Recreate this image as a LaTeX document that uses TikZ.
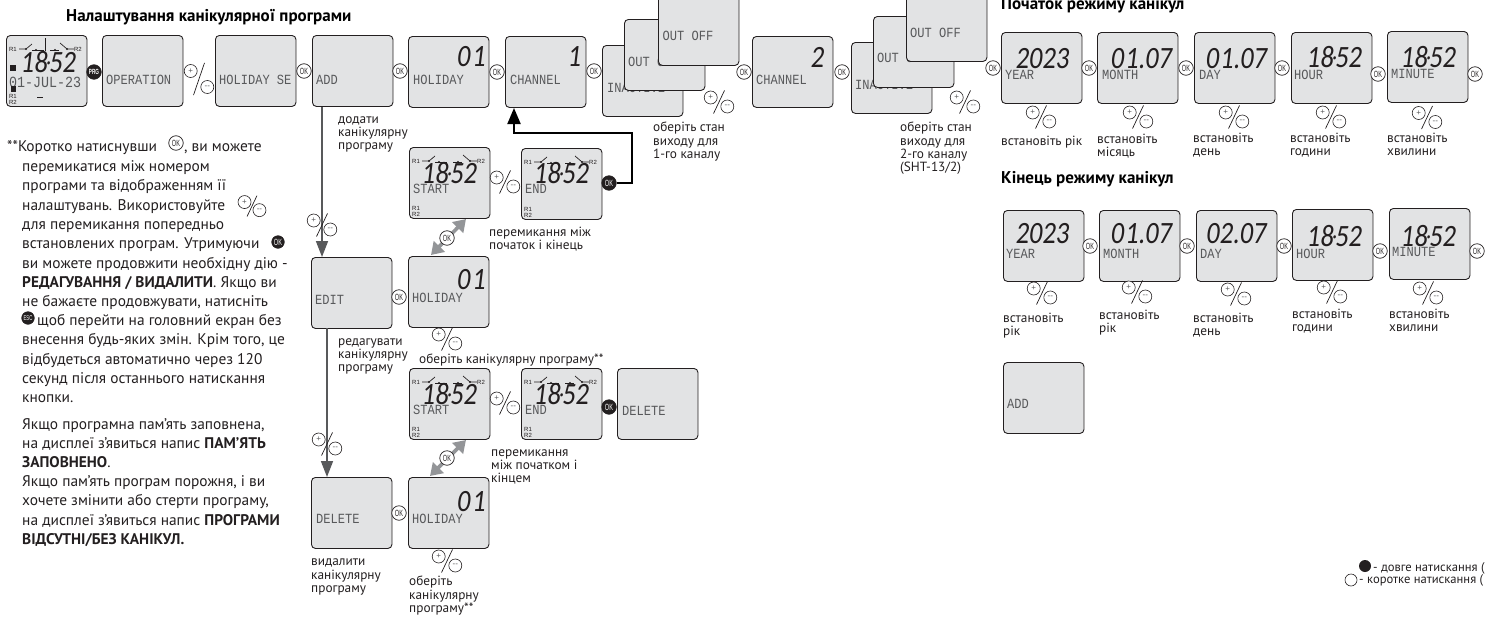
\documentclass[tikz,border=0pt]{standalone}
\usepackage{fontspec}
\usetikzlibrary{arrows.meta}
\setmainfont{PT Sans}
\newfontfamily\lcdfont[FakeStretch=0.86]{Liberation Mono}
\newfontfamily\numfont[FakeStretch=0.85,FakeSlant=0.12,ItalicFont=*]{Carlito}
\newfontfamily\btnfont[FakeStretch=0.62]{Liberation Sans}
\newfontfamily\tinyfont{Liberation Sans}
\definecolor{lcdgray}{HTML}{E2E3E4}
\definecolor{linegray}{HTML}{58595B}
\definecolor{arrowgray}{HTML}{939598}
\definecolor{inkgray}{HTML}{231F20}
\tikzset{
  lcd/.style={draw=inkgray, line width=0.9pt, fill=lcdgray, rounded corners=4pt, anchor=north west, minimum width=80.5pt, minimum height=71pt, inner sep=0pt},
  lcdtext/.style={font=\lcdfont\fontsize{14}{14}\selectfont, text=linegray, anchor=west, inner sep=0pt},
  bignum/.style={font=\numfont\itshape\fontsize{31}{31}\selectfont, text=inkgray, inner sep=0pt},
  okbtn/.style={circle, draw=inkgray, line width=0.7pt, fill=white, minimum size=14.5pt, inner sep=0pt, font=\btnfont\fontsize{9}{9}\selectfont, text=inkgray},
  okfill/.style={okbtn, fill=inkgray, text=white},
  pmbtn/.style={circle, draw=inkgray, line width=0.6pt, fill=white, minimum size=13pt, inner sep=0pt, font=\tinyfont\fontsize{8}{8}\selectfont, text=linegray},
  tiny/.style={font=\tinyfont\fontsize{6}{6}\selectfont, text=inkgray, inner sep=0pt},
  lbl/.style={font=\fontsize{13.3}{13.3}\selectfont, text=inkgray, anchor=north west, align=left, inner sep=0pt},
  head/.style={font=\bfseries\fontsize{17}{17}\selectfont, text=black, anchor=west, inner sep=0pt},
  body/.style={font=\fontsize{15.4}{19.2}\selectfont, text=inkgray, anchor=north west, align=left, inner sep=0pt},
  sw/.style={line width=0.7pt, inkgray},
  grayline/.style={draw=linegray, line width=1.6pt, -{Triangle[length=16pt,width=12pt]}},
  grayboth/.style={draw=arrowgray, line width=3.6pt, {Triangle[length=12pt,width=15pt]}-{Triangle[length=12pt,width=15pt]}}
}
% the digits as the display spaces them
\newcommand{\clockdigits}{18\kern-1.5pt\raisebox{3pt}{\fontsize{22}{22}\selectfont ·}\kern-1.5pt 52}
\newcommand{\daydigits}{0\kern1pt 1.07}
\newcommand{\numdigits}{0\kern2pt 1}
% box + segment text
\newcommand{\screen}[6]{
  \node[lcd] (#1) at (#2,#3) {};
  \node[lcdtext] (#1txt) at (#5,#6) {#4};
}
\newcommand{\plusminus}[4][4.5]{
  \coordinate (#2) at (#3,#4);
  \draw[line width=0.7pt, inkgray] ([shift={(5.5,-5.7-1.3*#1)}]#2) -- ([shift={(-5.5,5.7+1.3*#1)}]#2);
  \node[pmbtn] (#2p) at ([shift={(-8.3,-#1)}]#2) {+};
  \node[pmbtn] (#2m) at ([shift={(8.3,#1)}]#2) {--};
}
% R1/R2 switch marks on a clock screen
\newcommand{\timeicons}[3]{
  \begin{scope}[shift={(#2,#3)}]
    \node[tiny] (#1ra) at (7,14) {R1};
    \node[tiny] (#1rb) at (72,14) {R2};
    \node[tiny] (#1rc) at (7,61) {R1};
    \node[tiny] (#1rd) at (7,67) {R2};
    \draw[sw] (13,14) -- (20,14) -- (26,9);
    \draw[sw] (26,15) -- (38,15);
    \draw[sw] (44,15) -- (53,15);
    \draw[sw] (54,8) -- (61,14) -- (68,14);
    \fill[inkgray] (20,14) circle (1.1);
    \fill[inkgray] (30,15) circle (1.1);
    \fill[inkgray] (49,15) circle (1.1);
    \fill[inkgray] (61,14) circle (1.1);
  \end{scope}
}
\begin{document}
\begin{tikzpicture}[x=1pt,y=-1pt]
  \useasboundingbox (0,0) rectangle (1488,616);
  \clip (0,0) rectangle (1488,616);

  % top row
  \node[head] (title) at (66,17) {Налаштування канікулярної програми};
  \screen{home}{6}{35}{\fontsize{15.5}{15.5}\selectfont 01-JUL-23}{9}{82}
  \node[bignum] (homeclock) at (48,62) {\clockdigits};
  \timeicons{homeic}{6}{35}
  \draw[line width=1pt, inkgray] (45.5,38) -- (45.5,51);
  \fill[inkgray] (10,65) rectangle (16,71);
  \fill[inkgray] (10.5,86) rectangle (15.5,92);
  \draw[sw] (37,97) -- (43,97);
  \screen{operation}{102}{35}{OPERATION}{106}{80}
  \screen{holidayse}{215}{35}{HOLIDAY SE}{219}{80}
  \screen{add}{312}{35}{ADD}{316}{80}
  \screen{holiday}{408}{36}{HOLIDAY}{413}{80}
  \node[bignum] (holidaynum) at (471,57) {\numdigits};
  \screen{channela}{505}{36}{CHANNEL}{510}{80}
  \node[bignum] (channelanum) at (574,57) {1};
  \screen{inacta}{602}{45}{INACTIVE}{607}{88}
  \screen{outa}{624}{19}{OUT OFF}{628}{62}
  \screen{outb}{658}{-6}{OUT OFF}{662.5}{36}
  \screen{channelb}{752}{36}{CHANNEL}{756}{80}
  \node[bignum] (channelbnum) at (817,57) {2};
  \screen{inactb}{851}{42}{INACTIVE}{855}{85}
  \screen{outc}{873}{16}{OUT OFF}{877}{58}
  \screen{outd}{906}{-10}{OUT OFF}{910}{33}

  \node[okfill, font=\btnfont\bfseries\fontsize{7.5}{7.5}\selectfont] (prg) at (94,72) {PRG};
  \plusminus[8]{pma}{199}{79}
  \node[okbtn] (oka) at (304,71) {OK};
  \node[okbtn] (okb) at (400,71) {OK};
  \node[okbtn] (okc) at (497,72) {OK};
  \node[okbtn] (okd) at (594,71) {OK};
  \node[okbtn] (oke) at (744,72) {OK};
  \node[okbtn] (okf) at (842,72) {OK};
  \node[okbtn] (okg) at (993,68) {OK};
  \plusminus{pmb}{719}{102}
  \plusminus{pmc}{965}{102}
  \node[lbl] (outlbla) at (653,122) {оберіть стан\\виходу для\\1-го каналу};
  \node[lbl] (outlblb) at (900,122) {оберіть стан\\виходу для\\2-го каналу\\(SHT-13/2)};

  % add / edit / delete column
  \node[lbl] (addlbl) at (338,116) {додати\\канікулярну\\програму};
  \screen{edit}{311}{257}{EDIT}{315}{300}
  \node[lbl] (editlbl) at (338,338) {редагувати\\канікулярну\\програму};
  \screen{holidayb}{408}{256}{HOLIDAY}{412}{298}
  \node[bignum] (holidaybnum) at (471,280) {\numdigits};
  \screen{del}{311}{477}{DELETE}{316}{519}
  \node[lbl] (dellbl) at (311,559) {видалити\\канікулярну\\програму};
  \screen{holidayc}{408}{477}{HOLIDAY}{412}{519}
  \node[bignum] (holidaycnum) at (471,502) {\numdigits};
  \node[lbl] (sellbla) at (419,354) {оберіть канікулярну програму**};
  \node[lbl] (sellblb) at (409,576) {оберіть\\канікулярну\\програму**};

  \coordinate (adddown) at (322,107);
  \coordinate (editup) at (322,257);
  \coordinate (editdown) at (327,328);
  \coordinate (delup) at (327,477);
  \draw[grayline] (adddown) -- (editup);
  \draw[grayline] (editdown) -- (delup);
  \plusminus{pmd}{322}{225}
  \plusminus{pme}{327}{444}
  \node[okbtn] (okh) at (399,297) {OK};
  \node[okbtn] (oki) at (399,513) {OK};
  \plusminus{pmf}{447}{339}
  \plusminus{pmg}{447}{561}

  % start / end screens
  \screen{starta}{409}{147}{START}{413}{189}
  \node[bignum] (startanum) at (449,173) {\clockdigits};
  \timeicons{startaic}{409}{147}
  \screen{enda}{521}{148}{END}{525}{189}
  \node[bignum] (endanum) at (561,173) {\clockdigits};
  \timeicons{endaic}{521}{148}
  \plusminus{pmh}{505}{182}
  \node[okfill] (okj) at (609,183) {OK};
  \node[lbl] (swlbla) at (489,227) {перемикання між\\початок і кінець};

  \screen{startb}{409}{368}{START}{413}{410}
  \node[bignum] (startbnum) at (449,394) {\clockdigits};
  \timeicons{startbic}{409}{368}
  \screen{endb}{521}{368}{END}{525}{410}
  \node[bignum] (endbnum) at (561,394) {\clockdigits};
  \timeicons{endbic}{521}{368}
  \plusminus{pmi}{505}{403}
  \node[okfill] (okk) at (609,407) {OK};
  \screen{delb}{617}{368}{DELETE}{622}{411}
  \node[lbl] (swlblb) at (491,449) {перемикання\\між початком і\\кінцем};

  % arrows between holiday and start
  \coordinate (dba) at (431,255);
  \coordinate (dbb) at (466,219);
  \coordinate (dbc) at (430,476);
  \coordinate (dbd) at (466,440);
  \draw[grayboth] (dba) -- (dbb);
  \draw[grayboth] (dbc) -- (dbd);
  \node[okbtn] (okl) at (447,238) {OK};
  \node[okbtn] (okm) at (447,458) {OK};

  % back to channel 1
  \coordinate (turna) at (632,133);
  \coordinate (turnb) at (514,133);
  \coordinate (chtip) at (514,108);
  \draw[line width=2pt, black, -{Triangle[length=16pt,width=13pt]}] (okj) -| (turna) -- (turnb) -- (chtip);

  % holiday start
  \node[head] (headstart) at (1001,5) {Початок режиму канікул};
  \screen{yeara}{1001}{32}{YEAR}{1005}{75}
  \node[bignum] (yearanum) at (1042,59) {2023};
  \screen{montha}{1097}{32}{MONTH}{1102}{75}
  \node[bignum] (monthanum) at (1141,59) {\daydigits};
  \screen{daya}{1194}{32}{DAY}{1199}{75}
  \node[bignum] (dayanum) at (1236,59) {\daydigits};
  \screen{houra}{1291}{32}{HOUR}{1294}{75}
  \node[bignum] (houranum) at (1334,57) {\clockdigits};
  \screen{mina}{1387}{31}{MINUTE}{1391}{74}
  \node[bignum] (minanum) at (1428,57) {\clockdigits};
  \node[okbtn] (okn) at (1089,68) {OK};
  \node[okbtn] (oko) at (1186,68) {OK};
  \node[okbtn] (okp) at (1282,68) {OK};
  \node[okbtn] (okq) at (1378,74) {OK};
  \node[okbtn] (okr) at (1475,74) {OK};
  \plusminus{pmj}{1041}{117}
  \plusminus{pmk}{1138}{117}
  \plusminus{pml}{1234}{117}
  \plusminus{pmm}{1331}{117}
  \plusminus{pmn}{1427}{117.5}
  \node[lbl] (setlbla) at (1001,136) {встановіть рік};
  \node[lbl] (setlblb) at (1097,134) {встановіть\\місяць};
  \node[lbl] (setlblc) at (1193,133) {встановіть\\день};
  \node[lbl] (setlbld) at (1290,133) {встановіть\\години};
  \node[lbl] (setlble) at (1387,133) {встановіть\\хвилини};

  % holiday end
  \node[head] (headend) at (1001,179) {Кінець режиму канікул};
  \screen{yearb}{1003}{210}{YEAR}{1006}{254}
  \node[bignum] (yearbnum) at (1042,234) {2023};
  \screen{monthb}{1099}{210}{MONTH}{1103}{254}
  \node[bignum] (monthbnum) at (1141,234) {\daydigits};
  \screen{dayb}{1196}{210}{DAY}{1200}{254}
  \node[bignum] (daybnum) at (1236,234) {02.07};
  \screen{hourb}{1292}{209}{HOUR}{1296}{254}
  \node[bignum] (hourbnum) at (1334,236) {\clockdigits};
  \screen{minb}{1389}{208}{MINUTE}{1392}{252}
  \node[bignum] (minbnum) at (1428,236) {\clockdigits};
  \node[okbtn] (oks) at (1090,246) {OK};
  \node[okbtn] (okt) at (1187,246) {OK};
  \node[okbtn] (oku) at (1284,246) {OK};
  \node[okbtn] (okv) at (1380,251) {OK};
  \node[okbtn] (okw) at (1477,251) {OK};
  \plusminus{pmo}{1042}{293}
  \plusminus{pmp}{1137}{292}
  \plusminus{pmq}{1236}{294}
  \plusminus{pmr}{1332}{292}
  \plusminus{pms}{1428}{293}
  \node[lbl] (endlbla) at (1003,313) {встановіть\\рік};
  \node[lbl] (endlblb) at (1099,310) {встановіть\\рік};
  \node[lbl] (endlblc) at (1193,313) {встановіть\\день};
  \node[lbl] (endlbld) at (1292,309) {встановіть\\години};
  \node[lbl] (endlble) at (1389,309) {встановіть\\хвилини};
  \screen{addb}{1003}{362}{ADD}{1007}{404}

  % legend
  \node[circle, fill=inkgray, minimum size=12pt, inner sep=0pt] (legfill) at (1365,566) {};
  \node[lbl, anchor=west, font=\fontsize{12.6}{13}\selectfont] (legfilltxt) at (1373,568) {- довге натискання (};
  \node[circle, draw=inkgray, line width=0.6pt, minimum size=12pt, inner sep=0pt] (legopen) at (1351,580) {};
  \node[lbl, anchor=west, font=\fontsize{12.6}{13}\selectfont] (legopentxt) at (1359,580) {- коротке натискання (};

  % side note
  \node[body] (notea) at (7,140) {**Коротко натиснувши \hspace{23pt}, ви можете};
  \node[body] (noteb) at (22,160) {перемикатися між номером\\
    програми та відображенням її\\[1pt]
    налаштувань. Використовуйте\\
    для перемикання попередньо\\
    встановлених програм. Утримуючи\\
    ви можете продовжити необхідну дію -\\
    \textbf{РЕДАГУВАННЯ / ВИДАЛИТИ}. Якщо ви\\
    не бажаєте продовжувати, натисніть\\
    \hspace{15pt}щоб перейти на головний екран без\\
    внесення будь-яких змін. Крім того, це\\
    відбудеться автоматично через 120\\
    секунд після останнього натискання\\
    кнопки.};
  \node[body] (notec) at (22,418) {Якщо програмна пам’ять заповнена,\\
    на дисплеї з’явиться напис \textbf{ПАМ’ЯТЬ}\\
    \textbf{ЗАПОВНЕНО}.\\
    Якщо пам’ять програм порожня, і ви\\
    хочете змінити або стерти програму,\\
    на дисплеї з’явиться напис \textbf{ПРОГРАМИ}\\
    \textbf{ВІДСУТНІ/БЕЗ КАНІКУЛ.}};
  \node[okbtn, fill=none] (noteok) at (176,143) {OK};
  \begin{scope}[scale=0.9]
    \plusminus{pmt}{280}{229}
  \end{scope}
  \node[okfill, minimum size=12.5pt] (noteokb) at (278,242) {OK};
  \node[okfill, minimum size=12.5pt, font=\btnfont\fontsize{7}{7}\selectfont] (noteesc) at (28,318) {ESC};
\end{tikzpicture}
\end{document}
